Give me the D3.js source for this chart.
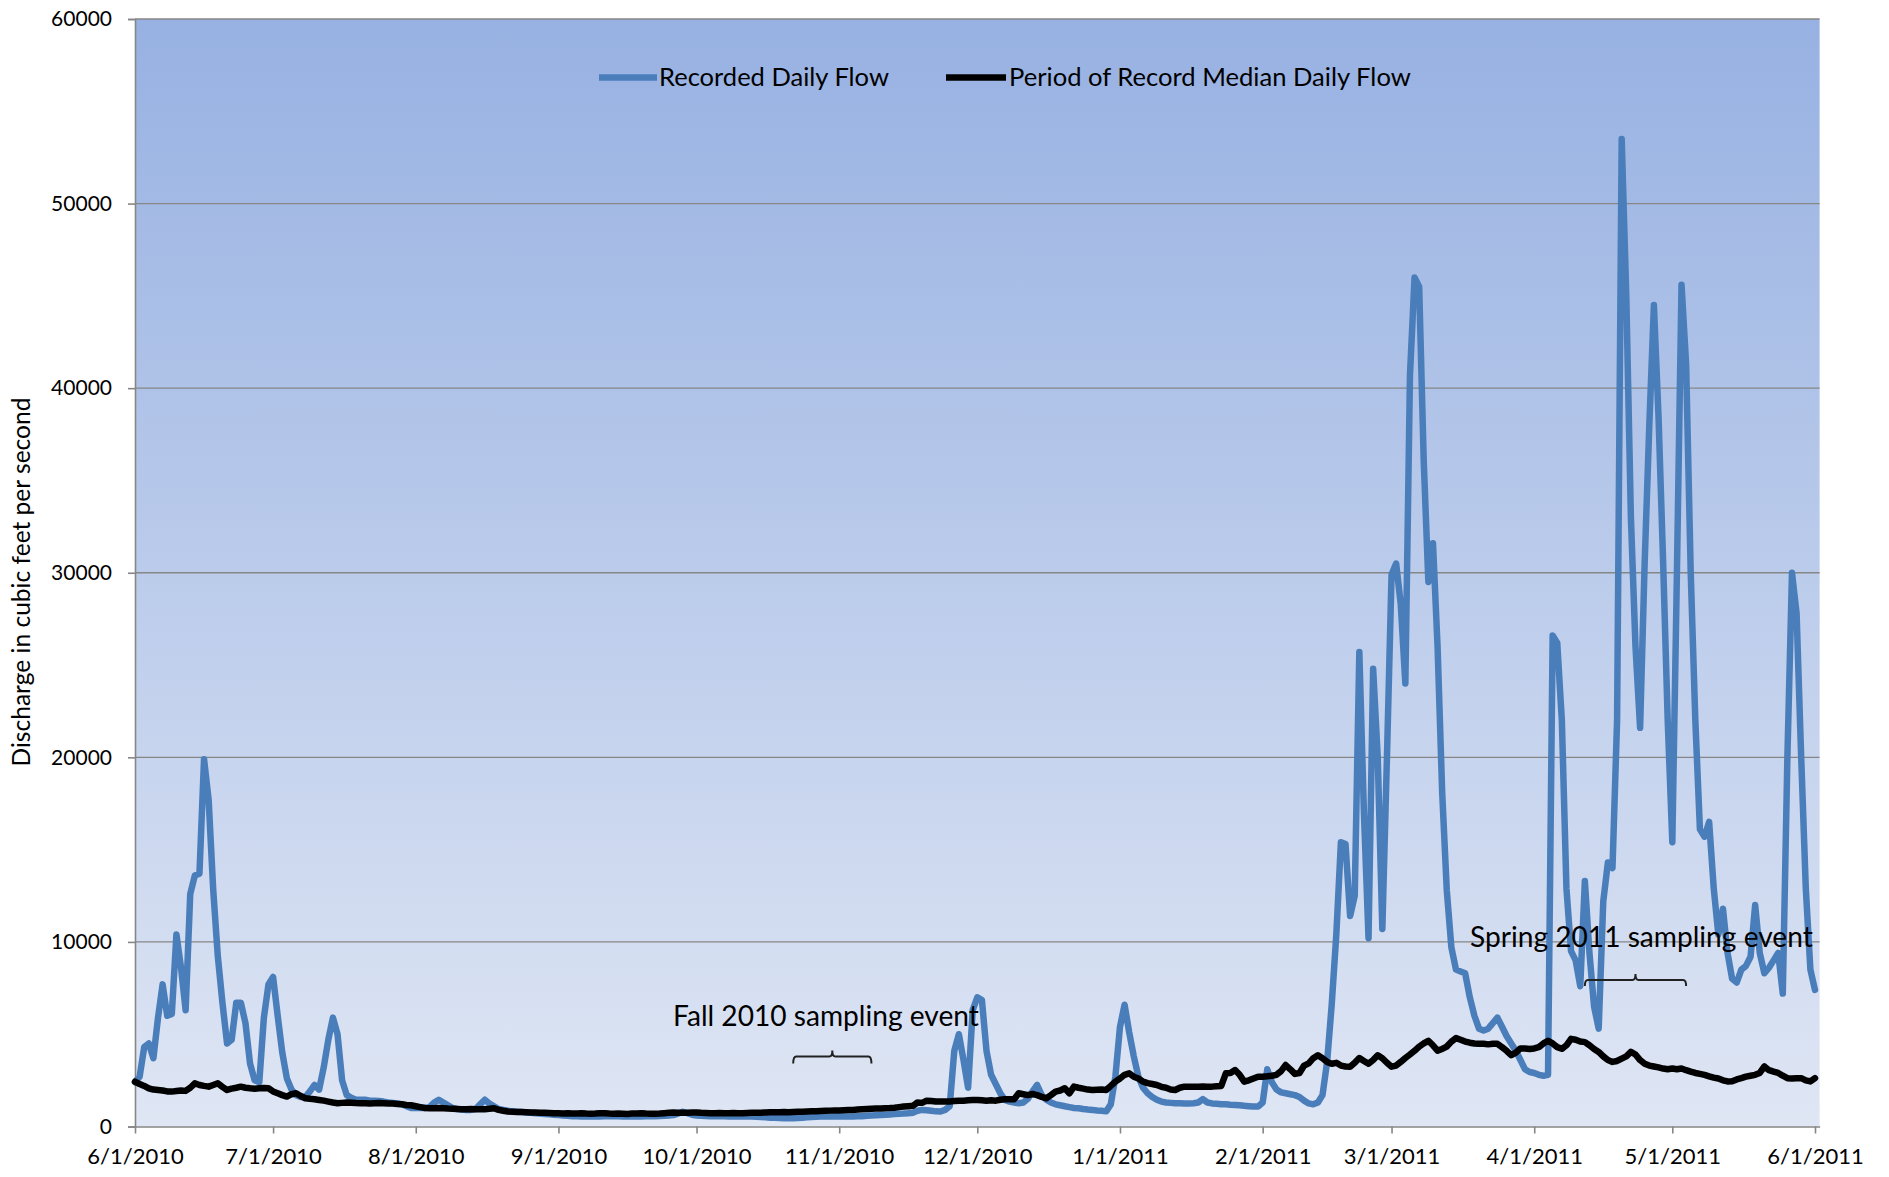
<!DOCTYPE html>
<html>
<head>
<meta charset="utf-8">
<script src="https://cdn.jsdelivr.net/npm/d3@7"></script>
<style>
  html, body { margin: 0; padding: 0; background: #ffffff; }
  svg { display: block; }
  text { font-family: Lato, "Open Sans", "DejaVu Sans", sans-serif; fill: #000; }
</style>
</head>
<body>
<svg id="chart" width="1889" height="1177"></svg>
<script>
// ---------------- DATA (daily values, cubic feet per second) ----------------
const startDate = new Date(2010, 5, 1);   // 6/1/2010
const endDate   = new Date(2011, 5, 2);   // axis ends just after 6/1/2011

const seriesNames = ["Recorded Daily Flow", "Period of Record Median Daily Flow"];
const yTickValues = [0, 10000, 20000, 30000, 40000, 50000, 60000];
const yAxisTitle = "Discharge in cubic feet per second";
const annotations = ["Fall 2010 sampling event", "Spring 2011 sampling event"];
const fallEvent   = [new Date(2010, 9, 22), new Date(2010, 10, 8)];
const springEvent = [new Date(2011, 3, 12), new Date(2011, 4, 4)];

// Recorded daily flow, month by month
const recJun10 = [2400, 2700, 4300, 4500, 3700, 5900, 7700, 6000, 6100, 10400, 8600, 6300, 12600, 13600, 13700, 19900, 17700, 12800, 9200, 6700, 4500, 4700, 6700, 6700, 5600, 3400, 2500, 2400, 5900, 7700];
const recJul10 = [8100, 6000, 4000, 2600, 2000, 1700, 1600, 1600, 1900, 2250, 2000, 3200, 4700, 5900, 5000, 2500, 1700, 1550, 1450, 1450, 1450, 1400, 1400, 1380, 1350, 1300, 1280, 1250, 1200, 1100, 1000];
const recAug10 = [1000, 1000, 1000, 1050, 1300, 1450, 1300, 1150, 1000, 950, 920, 900, 900, 950, 1200, 1450, 1250, 1100, 950, 900, 850, 820, 800, 780, 760, 740, 720, 700, 680, 660, 640];
const recSep10 = [620, 600, 580, 560, 550, 540, 540, 540, 540, 540, 550, 560, 560, 550, 540, 540, 540, 540, 540, 550, 560, 560, 570, 580, 600, 620, 700, 800, 720, 640];
const recOct10 = [600, 580, 570, 560, 570, 560, 550, 540, 540, 540, 550, 540, 540, 530, 520, 500, 480, 470, 460, 450, 450, 450, 460, 480, 500, 520, 530, 540, 540, 540, 540];
const recNov10 = [540, 540, 540, 540, 550, 560, 580, 600, 610, 620, 630, 650, 670, 690, 700, 720, 750, 850, 900, 880, 850, 820, 810, 900, 1100, 4100, 5000, 3600, 2100, 6300];
const recDec10 = [7000, 6850, 4100, 2800, 2300, 1800, 1440, 1350, 1300, 1260, 1300, 1500, 1900, 2250, 1700, 1450, 1300, 1200, 1150, 1100, 1050, 1000, 990, 950, 920, 900, 870, 850, 820, 1200, 2700];
const recJan11 = [5400, 6600, 5100, 3800, 2700, 2100, 1800, 1600, 1450, 1350, 1300, 1280, 1260, 1260, 1250, 1250, 1260, 1300, 1480, 1300, 1250, 1230, 1200, 1200, 1180, 1170, 1150, 1120, 1100, 1080, 1080];
const recFeb11 = [1300, 3100, 2400, 2000, 1850, 1800, 1750, 1700, 1600, 1400, 1250, 1200, 1300, 1700, 3500, 6600, 10400, 15400, 15300, 11400, 12500, 25700, 17000, 10200, 24800, 20000, 10700, 20000];
const recMar11 = [29900, 30500, 28300, 24000, 40700, 46000, 45500, 36000, 29500, 31600, 26000, 18100, 12800, 9700, 8500, 8400, 8300, 7000, 6000, 5300, 5200, 5300, 5600, 5900, 5400, 4900, 4500, 4100, 3600, 3100, 2950];
const recApr11 = [2900, 2800, 2750, 2800, 26600, 26200, 22000, 12900, 9500, 9000, 7600, 13300, 9400, 6500, 5300, 12200, 14300, 14000, 22000, 53500, 45000, 33000, 26000, 21600, 30600, 38000, 44500, 38500, 30600, 22000];
const recMay11 = [15400, 30000, 45600, 41300, 30000, 22000, 16100, 15700, 16500, 12900, 10400, 11800, 9400, 8000, 7800, 8500, 8700, 9200, 12000, 9400, 8300, 8600, 9000, 9400, 7200, 20000, 30000, 27800, 20000, 12900, 8500];
const recJun11 = [7400];

// Period of record median daily flow, month by month
const medJun10 = [2430, 2300, 2200, 2070, 2000, 1980, 1950, 1900, 1890, 1920, 1950, 1930, 2100, 2340, 2250, 2200, 2160, 2250, 2340, 2150, 1980, 2050, 2100, 2160, 2100, 2070, 2050, 2070, 2080, 2070];
const medJul10 = [1900, 1800, 1700, 1620, 1750, 1800, 1650, 1530, 1500, 1480, 1440, 1400, 1350, 1300, 1260, 1280, 1300, 1290, 1270, 1260, 1260, 1250, 1260, 1270, 1260, 1250, 1240, 1220, 1200, 1170, 1150];
const medAug10 = [1100, 1050, 1000, 990, 990, 1000, 990, 970, 960, 950, 940, 940, 945, 940, 935, 940, 960, 990, 900, 850, 810, 800, 790, 780, 770, 760, 760, 750, 740, 730, 720];
const medSep10 = [720, 710, 720, 700, 710, 720, 700, 690, 700, 720, 720, 700, 690, 700, 690, 680, 700, 710, 720, 700, 690, 690, 700, 720, 740, 760, 750, 740, 750, 760];
const medOct10 = [760, 740, 730, 720, 720, 730, 720, 720, 730, 720, 720, 730, 740, 740, 750, 760, 770, 770, 775, 780, 775, 790, 800, 800, 810, 820, 830, 840, 850, 860, 865];
const medNov10 = [870, 880, 890, 900, 920, 940, 950, 960, 970, 980, 990, 1000, 1020, 1050, 1080, 1100, 1120, 1300, 1280, 1400, 1380, 1350, 1360, 1350, 1360, 1380, 1400, 1400, 1420, 1430];
const medDec10 = [1440, 1420, 1400, 1420, 1400, 1450, 1480, 1480, 1480, 1800, 1750, 1700, 1760, 1700, 1600, 1530, 1700, 1890, 1950, 2070, 1800, 2160, 2100, 2050, 2000, 1980, 1990, 2000, 1980, 2200, 2430];
const medJan11 = [2600, 2800, 2880, 2700, 2600, 2430, 2350, 2300, 2250, 2150, 2100, 2000, 1980, 2100, 2160, 2160, 2150, 2160, 2170, 2160, 2160, 2180, 2200, 2880, 2900, 3060, 2800, 2430, 2500, 2600, 2700];
const medFeb11 = [2700, 2720, 2750, 2800, 3000, 3330, 3100, 2850, 2900, 3300, 3420, 3700, 3860, 3700, 3500, 3400, 3450, 3300, 3250, 3240, 3450, 3710, 3550, 3400, 3600, 3860, 3700, 3450];
const medMar11 = [3240, 3300, 3500, 3710, 3900, 4100, 4330, 4500, 4640, 4400, 4110, 4200, 4330, 4600, 4790, 4700, 4600, 4540, 4500, 4480, 4480, 4450, 4480, 4480, 4300, 4100, 3860, 4000, 4230, 4230, 4200];
const medApr11 = [4230, 4300, 4500, 4640, 4500, 4300, 4210, 4400, 4750, 4700, 4600, 4570, 4400, 4200, 4040, 3800, 3600, 3500, 3550, 3680, 3800, 4040, 3900, 3600, 3400, 3300, 3250, 3200, 3140, 3100];
const medMay11 = [3140, 3100, 3140, 3050, 2970, 2900, 2850, 2800, 2720, 2650, 2600, 2500, 2440, 2450, 2550, 2620, 2700, 2750, 2800, 2900, 3250, 3050, 2970, 2900, 2750, 2620, 2600, 2620, 2620, 2500, 2440];
const medJun11 = [2620];

const recorded = [].concat(recJun10, recJul10, recAug10, recSep10, recOct10, recNov10, recDec10,
                           recJan11, recFeb11, recMar11, recApr11, recMay11, recJun11);
const median   = [].concat(medJun10, medJul10, medAug10, medSep10, medOct10, medNov10, medDec10,
                           medJan11, medFeb11, medMar11, medApr11, medMay11, medJun11);

const toPoints = arr => arr.map((v, i) => ({ date: d3.timeDay.offset(startDate, i), value: v }));
const recordedPts = toPoints(recorded);
const medianPts = toPoints(median);

// ---------------- LAYOUT ----------------
const svg = d3.select("#chart");
const plot = { left: 135, right: 1819.6, top: 19, bottom: 1126.5 };
const FONT = 'Lato, "Open Sans", "DejaVu Sans", sans-serif';

const x = d3.scaleTime().domain([startDate, endDate]).range([plot.left, plot.right]);
const y = d3.scaleLinear().domain([0, 60000]).range([plot.bottom, plot.top]);

// Background gradient
const defs = svg.append("defs");
const grad = defs.append("linearGradient").attr("id", "bg")
  .attr("x1", 0).attr("y1", 0).attr("x2", 0).attr("y2", 1);
grad.append("stop").attr("offset", "0%").attr("stop-color", "#97b1e2");
grad.append("stop").attr("offset", "100%").attr("stop-color", "#dfe6f4");

svg.append("rect")
  .attr("x", plot.left).attr("y", plot.top)
  .attr("width", plot.right - plot.left).attr("height", plot.bottom - plot.top)
  .attr("fill", "url(#bg)");

// Gridlines
svg.append("g").selectAll("line")
  .data(yTickValues.filter(v => v > 0))
  .join("line")
  .attr("x1", plot.left).attr("x2", plot.right)
  .attr("y1", d => y(d)).attr("y2", d => y(d))
  .attr("stroke", "#868686").attr("stroke-width", 1.4);

// Y axis
const yAxis = svg.append("g")
  .attr("transform", `translate(${plot.left},0)`)
  .call(d3.axisLeft(y).tickValues(yTickValues).tickFormat(d3.format("d")).tickSize(7).tickPadding(16));
yAxis.select(".domain").attr("stroke", "#868686").attr("stroke-width", 1.6);
yAxis.selectAll(".tick line").attr("stroke", "#868686").attr("stroke-width", 1.6);
yAxis.selectAll(".tick text").attr("font-family", FONT).attr("font-size", 21).attr("fill", "#000");

// X axis
const monthTicks = d3.timeMonth.range(startDate, endDate);
const xAxis = svg.append("g")
  .attr("transform", `translate(0,${plot.bottom})`)
  .call(d3.axisBottom(x).tickValues(monthTicks).tickFormat(d3.timeFormat("%-m/%-d/%Y")).tickSize(7).tickPadding(15).tickSizeOuter(0));
xAxis.select(".domain").attr("stroke", "#868686").attr("stroke-width", 1.6);
xAxis.selectAll(".tick line").attr("stroke", "#868686").attr("stroke-width", 1.6);
xAxis.selectAll(".tick text").attr("font-family", FONT).attr("font-size", 22).attr("fill", "#000");

// Lines
const line = d3.line().x(d => x(d.date)).y(d => y(d.value));
svg.append("path").datum(recordedPts)
  .attr("d", line).attr("fill", "none")
  .attr("stroke", "#4a7ebb").attr("stroke-width", 6.5)
  .attr("stroke-linejoin", "round").attr("stroke-linecap", "round");
svg.append("path").datum(medianPts)
  .attr("d", line).attr("fill", "none")
  .attr("stroke", "#000").attr("stroke-width", 6.5)
  .attr("stroke-linejoin", "round").attr("stroke-linecap", "round");

// helper: fit text to a target width
function fit(sel, width) {
  const len = sel.node().getComputedTextLength();
  const fs = parseFloat(sel.attr("font-size"));
  sel.attr("font-size", fs * width / len);
  return sel;
}

// Y axis title
const yt = svg.append("text")
  .attr("transform", "translate(30,582) rotate(-90)")
  .attr("text-anchor", "middle")
  .attr("font-family", FONT).attr("font-size", 22)
  .text(yAxisTitle);
fit(yt, 369);

// Legend
const legend = svg.append("g");
legend.append("line").attr("x1", 599).attr("x2", 657).attr("y1", 77.5).attr("y2", 77.5)
  .attr("stroke", "#4a7ebb").attr("stroke-width", 6.5);
fit(legend.append("text").attr("x", 659).attr("y", 85.5)
  .attr("font-family", FONT).attr("font-size", 22).text(seriesNames[0]), 230);
legend.append("line").attr("x1", 946).attr("x2", 1006).attr("y1", 77.5).attr("y2", 77.5)
  .attr("stroke", "#000").attr("stroke-width", 6.5);
fit(legend.append("text").attr("x", 1009).attr("y", 85.5)
  .attr("font-family", FONT).attr("font-size", 22).text(seriesNames[1]), 402);

// Annotations
fit(svg.append("text").attr("x", 673).attr("y", 1026)
  .attr("font-family", FONT).attr("font-size", 28).text(annotations[0]), 306);
fit(svg.append("text").attr("x", 1470).attr("y", 947)
  .attr("font-family", FONT).attr("font-size", 28).text(annotations[1]), 343);

function bracket(range, yLine, drop, rise) {
  const x1 = x(range[0]), x2 = x(range[1]), xm = (x1 + x2) / 2;
  const r = 3;
  const p = d3.path();
  p.moveTo(x1, yLine + drop);
  p.quadraticCurveTo(x1, yLine, x1 + r, yLine);
  p.lineTo(xm - r, yLine);
  p.quadraticCurveTo(xm, yLine, xm, yLine - rise);
  p.quadraticCurveTo(xm, yLine, xm + r, yLine);
  p.lineTo(x2 - r, yLine);
  p.quadraticCurveTo(x2, yLine, x2, yLine + drop);
  svg.append("path").attr("d", p.toString()).attr("fill", "none")
    .attr("stroke", "#222").attr("stroke-width", 2);
}
bracket(fallEvent, 1056.5, 7, 6);
bracket(springEvent, 980, 6, 6);
</script>
</body>
</html>
